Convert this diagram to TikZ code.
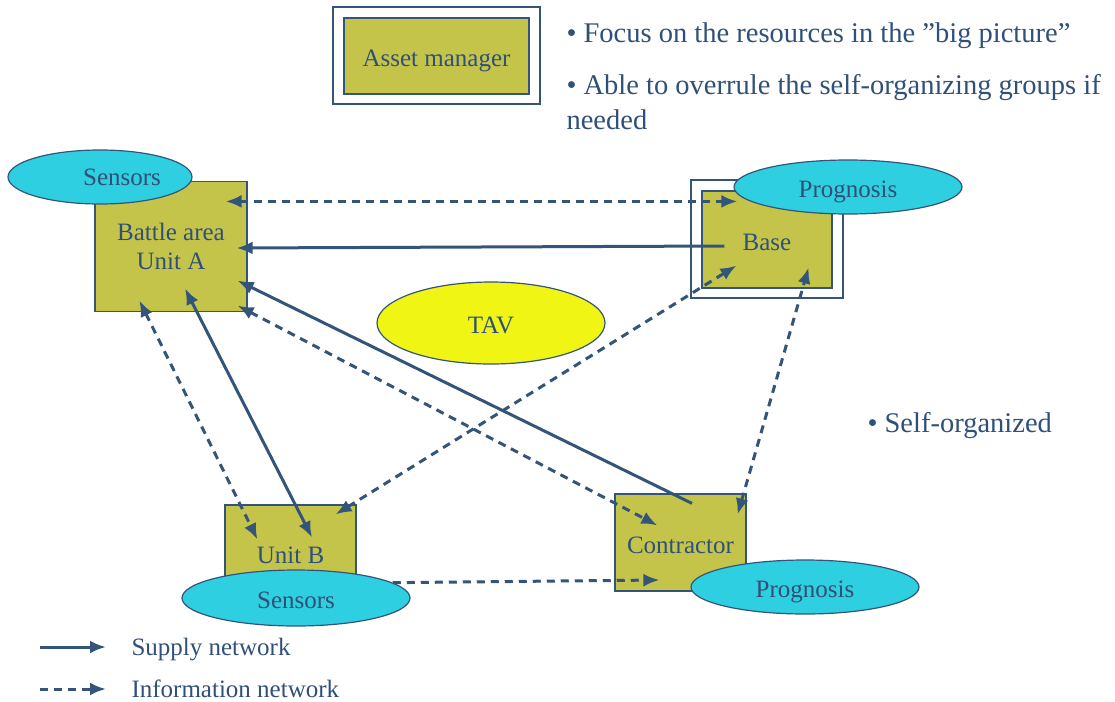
\documentclass[tikz,border=0pt]{standalone}
\usepackage{fontspec}
\setmainfont{Liberation Serif}
\usetikzlibrary{arrows.meta, shapes.geometric}

\definecolor{linkblue}{HTML}{34557A}
\definecolor{textblue}{HTML}{2F5078}
\definecolor{unitolive}{HTML}{C5C44A}
\definecolor{sensorcyan}{HTML}{2ECFE0}
\definecolor{tavyellow}{HTML}{F0F514}

\begin{document}
\begin{tikzpicture}[
  x=1pt, y=-1pt,
  >={Latex[length=16pt,width=13pt]},
  every node/.style={font=\fontsize{25}{29}\selectfont, text=textblue},
  oneline/.style={text height=24pt, text depth=3pt},
  unit/.style={draw=linkblue, line width=1.2pt, fill=unitolive, inner sep=0pt, align=center},
  outerbox/.style={draw=linkblue, line width=1.2pt, inner sep=0pt},
  blob/.style={ellipse, draw=linkblue, line width=1.2pt, fill=sensorcyan, inner sep=0pt,
    minimum width=228pt, minimum height=54pt},
  supply/.style={draw=linkblue, line width=3pt},
  info/.style={supply, dash pattern=on 8pt off 6pt},
  note/.style={font=\fontsize{28.5}{35}\selectfont, align=left, anchor=base west}
]
\useasboundingbox (0,0) rectangle (1115,701);

% Asset manager and notes
\node[outerbox, minimum width=207pt, minimum height=97pt] (assetframe) at (436.5,55.5) {};
\node[unit, oneline, minimum width=185pt, minimum height=76pt] (asset) at (436.5,56) {Asset manager};
\node[note] (focus) at (563,42) {•~Focus on the resources in the ”big picture”};
\node[note] (overrule) at (563,129) {•~Able to overrule the self-organizing groups if\\needed};
\node[note] (selforg) at (864,432) {•~Self-organized};

% Units
\node[unit, minimum width=152pt, minimum height=130pt] (unitA) at (171,246.5) {Battle area\\Unit A};
\node[outerbox, minimum width=152pt, minimum height=118pt] (baseframe) at (767,239) {};
\node[unit, oneline, minimum width=130pt, minimum height=97pt] (base) at (767,239.5) {Base};
\node[unit, oneline, minimum width=131pt, minimum height=95pt] (unitB) at (290.5,552.5) {Unit B};
\node[unit, oneline, minimum width=131pt, minimum height=97pt] (contractor) at (680.5,542.5) {Contractor};

% Sensors, prognosis, TAV
\node[blob, minimum width=184pt, label={[xshift=22pt]center:Sensors}] (sensorsA) at (100,177) {};
\node[blob, oneline] (prognosisBase) at (848,187) {Prognosis};
\node[blob, oneline, minimum height=56pt] (sensorsB) at (296,598) {Sensors};
\node[blob, oneline] (prognosisC) at (805,587) {Prognosis};
\node[blob, oneline, fill=tavyellow, minimum height=82pt] (tav) at (491,323) {TAV};

% Supply network
\draw[supply, ->] ([xshift=23pt,yshift=-6.5pt]base.west) -- ([xshift=-11pt,yshift=-1.5pt]unitA.east);
\draw[supply, ->] ([xshift=11.5pt,yshift=-10pt]contractor.north) -- ([xshift=-10pt,yshift=31.5pt]unitA.south east);
\draw[supply, <->] ([xshift=14pt,yshift=23.5pt]unitA.south) -- ([xshift=21.5pt,yshift=-33pt]unitB.north);

% Information network
\draw[info, <->] ([xshift=-22pt,yshift=-20.5pt]unitA.north east) -- ([xshift=36pt,yshift=-11pt]base.north west);
\draw[info, <->] ([xshift=-10pt,yshift=6.5pt]unitA.south east) -- ([xshift=43pt,yshift=-32pt]contractor.north west);
\draw[info, <->] ([xshift=45pt,yshift=11.5pt]unitA.south west) -- ([xshift=33pt,yshift=-35pt]unitB.north west);
\draw[info, <->] ([xshift=-21pt,yshift=-10pt]unitB.north east) -- ([xshift=35pt,yshift=23pt]base.south west);
\draw[info, <->] ([xshift=-9pt,yshift=-21pt]contractor.north east) -- ([xshift=-24pt,yshift=21pt]base.south east);
\draw[info, ->] (sensorsB.9) -- ([xshift=45pt,yshift=-37.5pt]contractor.west);

% Legend
\node[anchor=base west] (supplykey) at (128,655) {Supply network};
\node[anchor=base west] (infokey) at (128,697) {Information network};
\draw[supply, ->] ([xshift=-88pt,yshift=8pt]supplykey.base west) -- ([xshift=-22pt,yshift=8pt]supplykey.base west);
\draw[info, ->] ([xshift=-88pt,yshift=8pt]infokey.base west) -- ([xshift=-22pt,yshift=8pt]infokey.base west);

\end{tikzpicture}
\end{document}
